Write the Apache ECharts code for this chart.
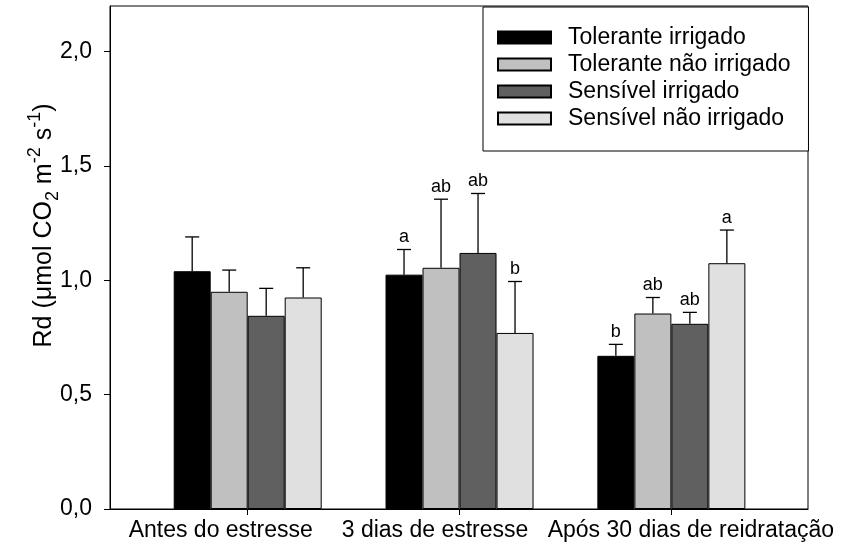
<!DOCTYPE html>
<html>
<head>
<meta charset="utf-8">
<script src="https://cdn.jsdelivr.net/npm/echarts@6/dist/echarts.min.js"></script>
<style>
html,body{margin:0;padding:0;background:#fff;}
#chart{width:846px;height:544px;}
</style>
</head>
<body>
<div id="chart"></div>
<script>
// ---- data ----
const categories = ['Antes do estresse', '3 dias de estresse', 'Após 30 dias de reidratação'];
const seriesNames = ['Tolerante irrigado', 'Tolerante não irrigado', 'Sensível irrigado', 'Sensível não irrigado'];
const tolIrr = [1.04, 1.025, 0.67];
const tolNao = [0.95, 1.055, 0.855];
const senIrr = [0.845, 1.12, 0.81];
const senNao = [0.925, 0.77, 1.075];
const tolIrrErr = [0.15, 0.11, 0.05];
const tolNaoErr = [0.095, 0.30, 0.07];
const senIrrErr = [0.12, 0.26, 0.05];
const senNaoErr = [0.13, 0.225, 0.145];
const tolIrrSig = ['', 'a', 'b'];
const tolNaoSig = ['', 'ab', 'ab'];
const senIrrSig = ['', 'ab', 'ab'];
const senNaoSig = ['', 'b', 'a'];
const yTicks = [0, 0.5, 1.0, 1.5, 2.0];

// ---- styling ----
const FONT = 'Liberation Sans, Arial, sans-serif';
const colors = ['#000000', '#c0c0c0', '#606060', '#e0e0e0'];
const BAR_W = 37;
const CAP = 7;

const values = [tolIrr, tolNao, senIrr, senNao];
const errs = [tolIrrErr, tolNaoErr, senIrrErr, senNaoErr];
const sigs = [tolIrrSig, tolNaoSig, senIrrSig, senNaoSig];
const catPos = categories.map((c, i) => i + 1);

const barSeries = seriesNames.map((name, s) => ({
  name: name,
  type: 'bar',
  barWidth: BAR_W,
  barGap: '0%',
  itemStyle: { color: colors[s], borderColor: '#000', borderWidth: 1 },
  data: catPos.map((x, i) => [x, values[s][i]]),
  z: 2
}));

const errRecords = [];
const errLabels = [];
seriesNames.forEach((n, s) => {
  catPos.forEach((x, i) => {
    errRecords.push([x, values[s][i], errs[s][i], s]);
    errLabels.push(sigs[s][i]);
  });
});

const errSeries = {
  type: 'custom',
  z: 3,
  silent: true,
  data: errRecords,
  encode: { x: 0, y: 1 },
  renderItem: function (params, api) {
    const xv = api.value(0), v = api.value(1), e = api.value(2), s = api.value(3);
    const base = api.coord([xv, v]);
    const top = api.coord([xv, v + e]);
    const x = base[0] + (s - 1.5) * BAR_W;
    const st = { stroke: '#000', lineWidth: 1.3 };
    const children = [
      { type: 'line', shape: { x1: x, y1: base[1], x2: x, y2: top[1] }, style: st },
      { type: 'line', shape: { x1: x - CAP, y1: top[1], x2: x + CAP, y2: top[1] }, style: st }
    ];
    const lab = errLabels[params.dataIndex];
    if (lab) {
      children.push({
        type: 'text',
        style: { text: lab, x: x, y: top[1] - 3, align: 'center', verticalAlign: 'bottom',
                 fontSize: 18, fontFamily: FONT, fill: '#000' }
      });
    }
    return { type: 'group', children: children };
  }
};

const chart = echarts.init(document.getElementById('chart'), null, { renderer: 'canvas' });
chart.setOption({
  animation: false,
  backgroundColor: '#fff',
  grid: { left: 110, right: 38, top: 6, bottom: 35, show: true, borderColor: '#000', borderWidth: 1, backgroundColor: 'transparent' },
  legend: {
    orient: 'vertical',
    left: 483,
    top: 7,
    data: seriesNames,
    icon: 'rect',
    itemWidth: 53,
    itemHeight: 12,
    itemGap: 0,
    padding: [17, 18, 19, 14],
    borderColor: '#000',
    borderWidth: 1,
    backgroundColor: '#fff',
    textStyle: { fontSize: 23, fontFamily: FONT, color: '#000', lineHeight: 27, padding: [0, 0, 0, 12] },
    z: 10
  },
  xAxis: {
    type: 'value',
    min: 0.35,
    max: 3.645,
    splitLine: { show: false },
    axisLine: { show: true, lineStyle: { color: '#000', width: 1 } },
    axisTick: { show: true, customValues: catPos, length: 6, lineStyle: { color: '#000' } },
    axisLabel: {
      customValues: catPos,
      margin: 10,
      color: '#000',
      fontSize: 23,
      fontFamily: FONT,
      formatter: function (val) {
        const i = Math.round(val) - 1;
        return '{c' + i + '|' + categories[i] + '}';
      },
      rich: {
        c0: { fontSize: 23, fontFamily: FONT, color: '#000', padding: [0, 54, 0, 0] },
        c1: { fontSize: 23, fontFamily: FONT, color: '#000', padding: [0, 49, 0, 0] },
        c2: { fontSize: 23, fontFamily: FONT, color: '#000', padding: [0, 0, 0, 39] }
      }
    }
  },
  yAxis: {
    type: 'value',
    min: 0,
    max: 2.2,
    splitLine: { show: false },
    axisLine: { show: true, lineStyle: { color: '#000', width: 1 } },
    axisTick: { show: true, customValues: yTicks, length: 6, lineStyle: { color: '#000' } },
    axisLabel: {
      customValues: yTicks,
      margin: 18,
      color: '#000',
      fontSize: 23,
      fontFamily: FONT,
      formatter: function (v) { return v.toFixed(1).replace('.', ','); }
    },
    name: '{t|Rd (μmol CO}{sub|2}{t| m}{sup|-2}{t| s}{sup|-1}{t|)}',
    nameLocation: 'middle',
    nameGap: 48,
    nameMoveOverlap: false,
    nameRotate: 90,
    nameTextStyle: {
      fontSize: 25,
      fontFamily: FONT,
      color: '#000',
      padding: [0, 0, 0, 64],
      rich: {
        t: { fontSize: 25, fontFamily: FONT, color: '#000', lineHeight: 36, verticalAlign: 'middle' },
        sub: { fontSize: 18, fontFamily: FONT, color: '#000', lineHeight: 18, verticalAlign: 'bottom' },
        sup: { fontSize: 18, fontFamily: FONT, color: '#000', lineHeight: 18, verticalAlign: 'top' }
      }
    }
  },
  series: barSeries.concat([errSeries])
});
</script>
</body>
</html>
